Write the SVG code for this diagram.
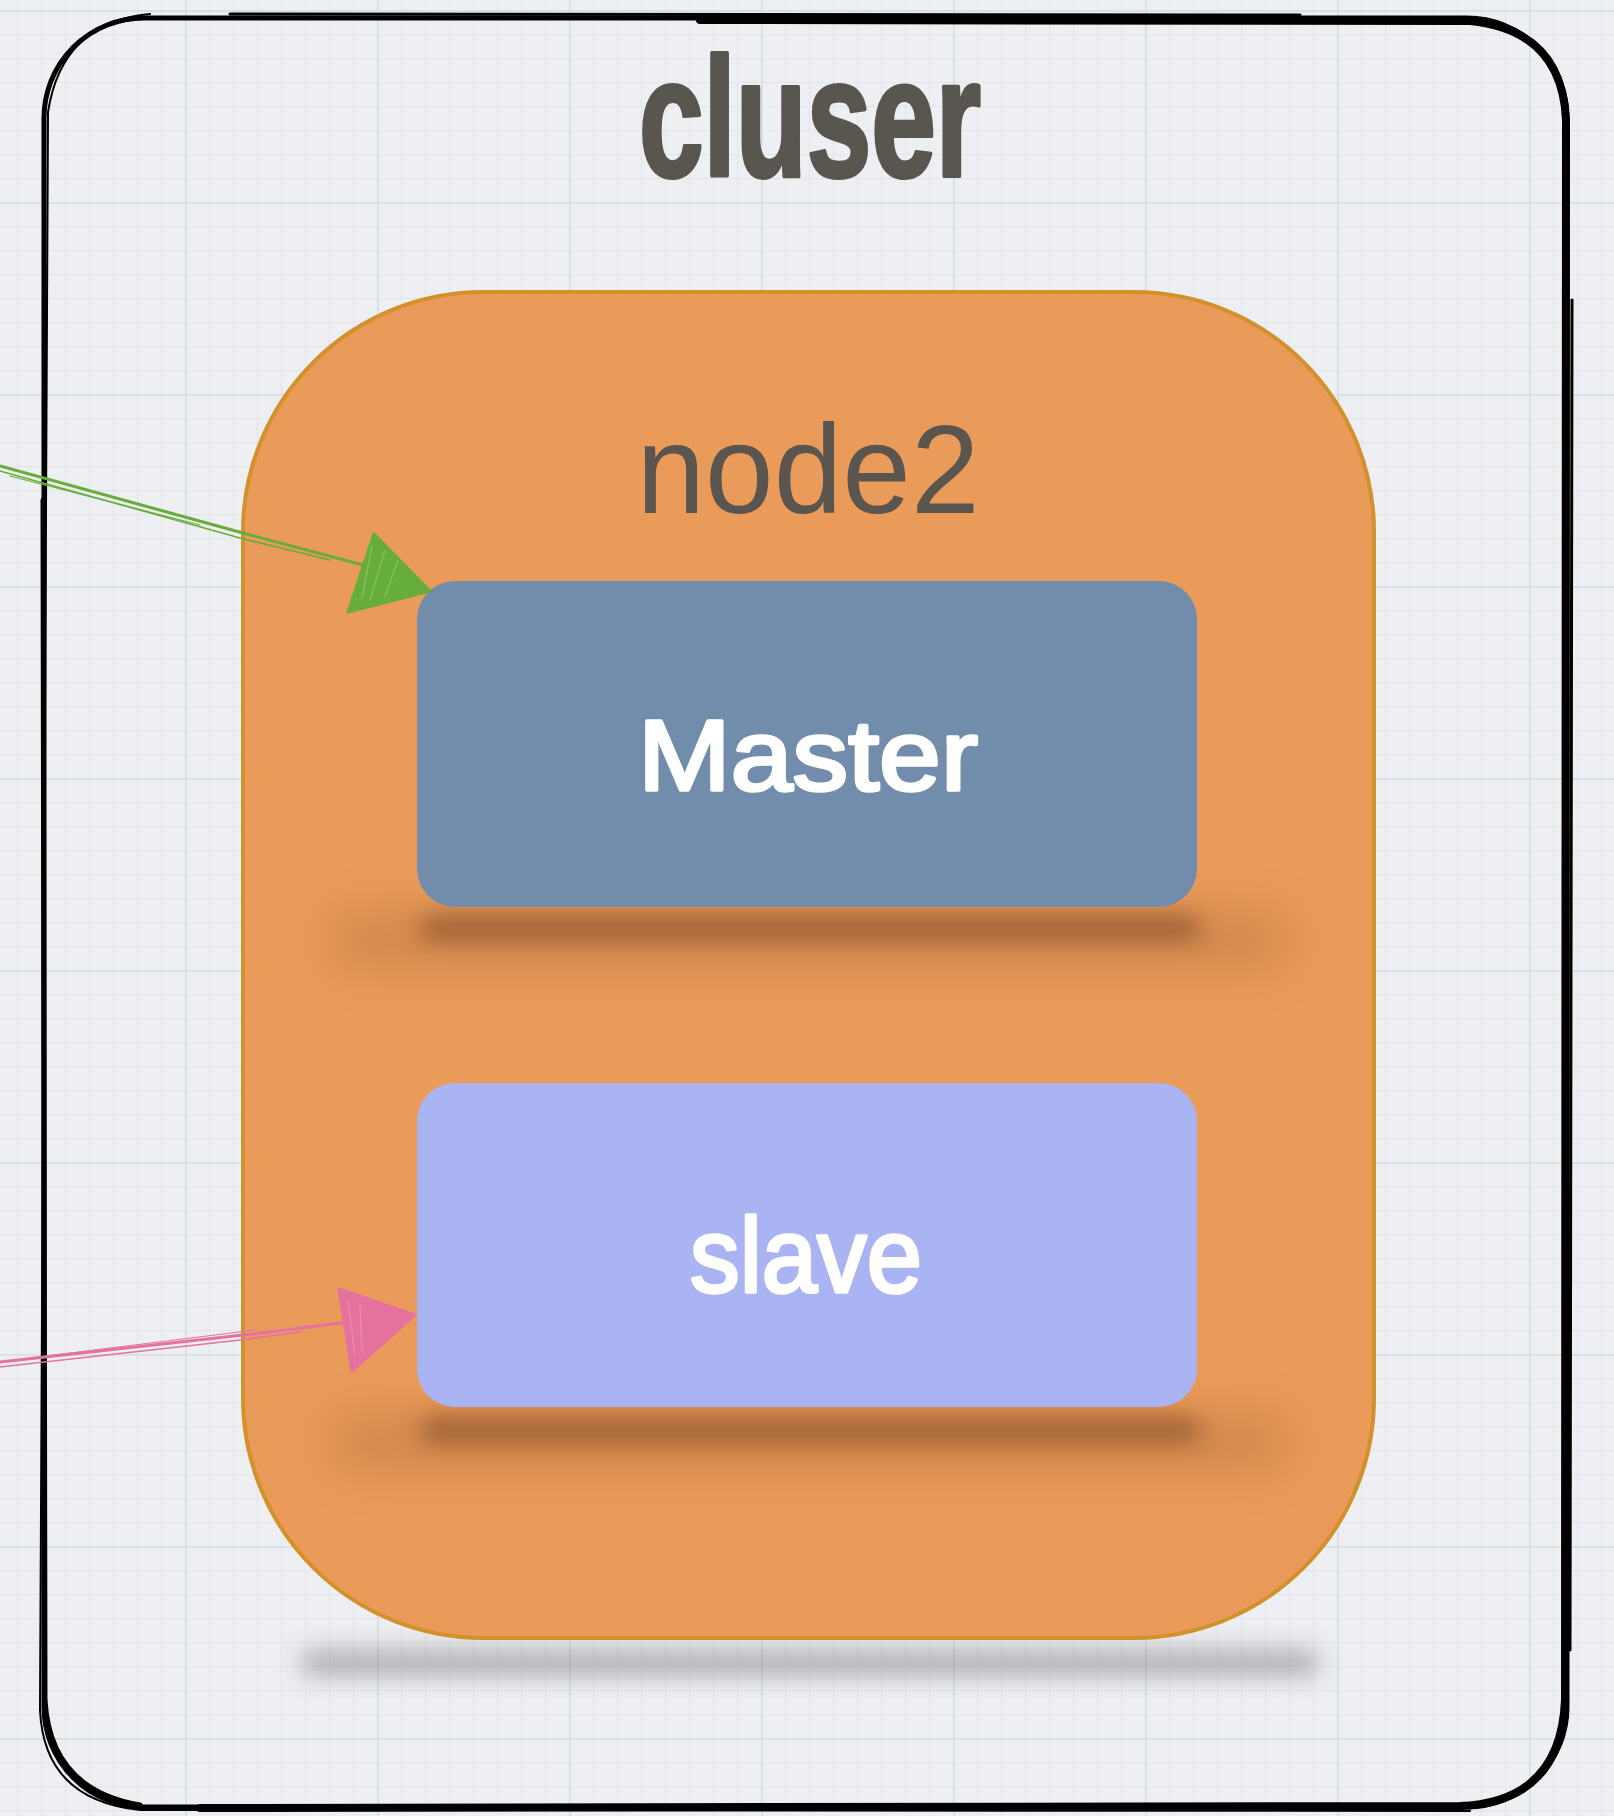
<svg xmlns="http://www.w3.org/2000/svg" width="1614" height="1816" viewBox="0 0 1614 1816">
<defs>
  <pattern id="minor" patternUnits="userSpaceOnUse" x="185" y="10" width="24" height="24">
    <path d="M0 0.5H24M0.5 0V24" stroke="#E2E6EA" stroke-width="1" fill="none"/>
  </pattern>
  <pattern id="major" patternUnits="userSpaceOnUse" x="185" y="10" width="192" height="192">
    <path d="M0 1H192M1 0V192" stroke="#D8E1E5" stroke-width="2" fill="none"/>
  </pattern>
  <filter id="blur10" x="-20%" y="-300%" width="140%" height="700%"><feGaussianBlur stdDeviation="10"/></filter>
  <filter id="blur24" x="-30%" y="-400%" width="160%" height="900%"><feGaussianBlur stdDeviation="24"/></filter>
  <filter id="blur12" x="-20%" y="-300%" width="140%" height="700%"><feGaussianBlur stdDeviation="12"/></filter>
</defs>
<style>
  .sketch{fill:none;stroke:#000;stroke-linecap:round;stroke-linejoin:round}
  .title{font-family:"Liberation Sans",Arial,sans-serif;font-weight:bold;fill:#59554F;stroke:#59554F;stroke-width:4;stroke-linejoin:round}
  .label{font-family:"Liberation Sans",Arial,sans-serif;fill:#FFFFFF;stroke:#FFFFFF;stroke-width:3.5;stroke-linejoin:round}
  .nodetitle{font-family:"Liberation Sans",Arial,sans-serif;fill:#5A554F}
</style>
<rect width="1614" height="1816" fill="#EEEFF3"/>
<rect width="1614" height="1816" fill="url(#minor)"/>
<rect width="1614" height="1816" fill="url(#major)"/>

<g id="cluster">
  <rect x="44" y="18" width="1523" height="1789" rx="100" class="sketch" stroke-width="5"/>
  <path class="sketch" stroke-width="2" d="M150 14 Q62 22 48 112 L40 1710 Q44 1800 140 1810 L1470 1811"/>
  <path class="sketch" stroke-width="8" d="M700 20 L1470 21 Q1562 30 1566 120 L1565 1700 Q1561 1802 1460 1806 L200 1808"/>
  <path class="sketch" stroke-width="3" d="M230 14 L1300 15 M1572 300 L1570 1650"/>
  <path class="sketch" stroke-width="5" d="M43 500 L45 1700 Q50 1790 140 1805"/>
  <text class="title" x="810" y="176" font-size="168" text-anchor="middle" textLength="342" lengthAdjust="spacingAndGlyphs">cluser</text>
</g>

<g id="node2">
  <rect x="300" y="1650" width="1020" height="26" rx="13" fill="#6E6E6E" opacity="0.5" filter="url(#blur12)"/>
  <rect x="243" y="292" width="1131" height="1346" rx="240" fill="#EA9B5A" stroke="#D2912B" stroke-width="4"/>
  <text class="nodetitle" x="808" y="513" font-size="126" text-anchor="middle" textLength="343" lengthAdjust="spacingAndGlyphs">node2</text>
</g>

<g id="master">
  <rect x="330" y="915" width="960" height="50" rx="25" fill="#9A5E30" opacity="0.35" filter="url(#blur24)"/>
  <rect x="420" y="917" width="780" height="22" rx="11" fill="#7A4520" opacity="0.7" filter="url(#blur12)"/>
  <rect x="417" y="581" width="780" height="326" rx="38" fill="#728DAB"/>
  <text class="label" x="808" y="790" font-size="100" text-anchor="middle" textLength="340" lengthAdjust="spacingAndGlyphs">Master</text>
</g>

<g id="slave">
  <rect x="330" y="1417" width="960" height="50" rx="25" fill="#9A5E30" opacity="0.35" filter="url(#blur24)"/>
  <rect x="420" y="1419" width="780" height="22" rx="11" fill="#7A4520" opacity="0.7" filter="url(#blur12)"/>
  <rect x="417" y="1083" width="780" height="324" rx="38" fill="#AAB4F3"/>
  <text class="label" x="806" y="1292" font-size="106" text-anchor="middle" textLength="232" lengthAdjust="spacingAndGlyphs">slave</text>
</g>

<g id="connectors">
  <g stroke="#67AD3B" fill="none" stroke-linecap="round">
    <path d="M0 466 L243 533 L363 565" stroke-width="3"/>
    <path d="M0 471 L240 538 L330 560" stroke-width="1.6"/>
    <path d="M10 476 L200 525" stroke-width="1.2"/>
  </g>
  <polygon points="430,591 374,534 348,612" fill="#67AD3B" stroke="#67AD3B" stroke-width="3" stroke-linejoin="round"/>
  <path d="M372 545 L362 598 M385 550 L370 600 M398 560 L385 597" stroke="#8CC56A" stroke-width="1.5" fill="none" opacity="0.7"/>
  <g stroke="#E5719F" fill="none" stroke-linecap="round">
    <path d="M0 1362 L243 1335 L342 1323" stroke-width="3"/>
    <path d="M0 1367 L240 1340 L300 1332" stroke-width="1.6"/>
    <path d="M30 1358 L255 1330" stroke-width="1.2"/>
  </g>
  <polygon points="415,1315 339,1289 352,1371" fill="#E5719F" stroke="#E5719F" stroke-width="3" stroke-linejoin="round"/>
  <path d="M348 1300 L355 1355 M360 1305 L362 1350" stroke="#EA93B5" stroke-width="1.5" fill="none" opacity="0.7"/>
</g>
</svg>
